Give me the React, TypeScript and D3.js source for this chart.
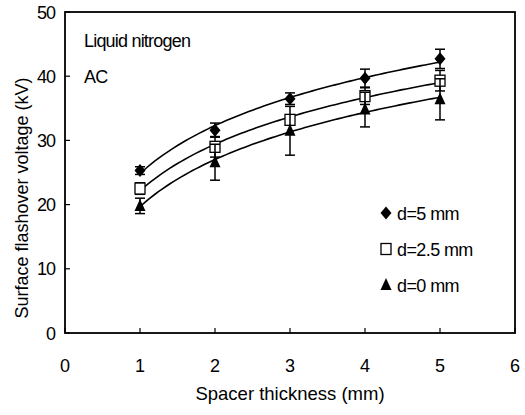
import React from "react";
import * as d3 from "d3";

const thickness = [1, 2, 3, 4, 5];
const d5Values = [25.3, 31.6, 36.5, 39.7, 42.7];
const d5Errors = [0.6, 1.1, 0.9, 1.4, 1.5];
const d25Values = [22.5, 29.0, 33.2, 36.9, 39.3];
const d25Errors = [0.9, 1.6, 0.8, 1.3, 1.6];
const d0Values = [19.8, 26.6, 31.5, 34.8, 36.4];
const d0Errors = [1.2, 2.8, 3.8, 2.7, 3.2];
const xTicks = [0, 1, 2, 3, 4, 5, 6];
const yTicks = [0, 10, 20, 30, 40, 50];
const seriesNames = ["d=5 mm", "d=2.5 mm", "d=0 mm"];

const W = 525, H = 415;
const m = { left: 65, right: 515, top: 12, bottom: 333 };
const FONT = "'Liberation Sans', Arial, sans-serif";

const x = d3.scaleLinear().domain([0, 6]).range([m.left, m.right]);
const y = d3.scaleLinear().domain([0, 50]).range([m.bottom, m.top]);

function logFit(xs: number[], ys: number[]) {
  const lx = xs.map(Math.log);
  const mx = d3.mean(lx)!, my = d3.mean(ys)!;
  let num = 0, den = 0;
  lx.forEach((v, i) => { num += (v - mx) * (ys[i] - my); den += (v - mx) ** 2; });
  const b = num / den, a = my - b * mx;
  return (t: number) => a + b * Math.log(t);
}

function Marker({ type, cx, cy }: { type: string; cx: number; cy: number }) {
  if (type === "diamond") {
    const r = 6.5;
    return <path d={`M${cx},${cy - r}L${cx + 5.5},${cy}L${cx},${cy + r}L${cx - 5.5},${cy}Z`} fill="#000" />;
  }
  if (type === "square") {
    return <rect x={cx - 5} y={cy - 5.5} width={10} height={11} fill="#fff" stroke="#000" strokeWidth={1.3} />;
  }
  return <path d={`M${cx},${cy - 7}L${cx + 5.5},${cy + 5}L${cx - 5.5},${cy + 5}Z`} fill="#000" />;
}

export default function App() {
  const series = [
    { vals: d5Values, errs: d5Errors, type: "diamond" },
    { vals: d25Values, errs: d25Errors, type: "square" },
    { vals: d0Values, errs: d0Errors, type: "triangle" },
  ];
  const fineX = d3.range(1, 5.0001, 0.05);

  return (
    <svg width={W} height={H} style={{ position: "absolute", left: 0, top: 0, background: "#fff" }} fontFamily={FONT}>
      <rect x={0} y={0} width={W} height={H} fill="#fff" />
      <rect x={m.left} y={m.top} width={m.right - m.left} height={m.bottom - m.top} fill="none" stroke="#000" strokeWidth={1.8} />
      {yTicks.map((t) => (
        <g key={"y" + t}>
          <line x1={m.left} x2={m.left + 5} y1={y(t)} y2={y(t)} stroke="#000" strokeWidth={1.2} />
          <text x={55} y={y(t) + 6.5} textAnchor="end" fontSize={18} letterSpacing={-1}>{t}</text>
        </g>
      ))}
      {xTicks.map((t) => (
        <g key={"x" + t}>
          <line x1={x(t)} x2={x(t)} y1={m.bottom} y2={m.bottom - 5} stroke="#000" strokeWidth={1.2} />
          <text x={x(t)} y={372} textAnchor="middle" fontSize={18}>{t}</text>
        </g>
      ))}
      <text x={290} y={400} textAnchor="middle" fontSize={18.5}>Spacer thickness (mm)</text>
      <text transform="translate(28,198) rotate(-90)" textAnchor="middle" fontSize={18}>Surface flashover voltage (kV)</text>
      <text x={84} y={47} fontSize={18} letterSpacing={-0.8}>Liquid nitrogen</text>
      <text x={84} y={83} fontSize={18} letterSpacing={-0.8}>AC</text>
      {series.map((s, si) => {
        const f = logFit(thickness, s.vals);
        const d = d3.line<number>().x((t) => x(t)).y((t) => y(f(t)))(fineX) || "";
        return <path key={"l" + si} d={d} fill="none" stroke="#000" strokeWidth={1.6} />;
      })}
      {series.map((s, si) => (
        <g key={"s" + si}>
          {thickness.map((t, i) => {
            const cx = x(t);
            const lo = y(s.vals[i] - s.errs[i]);
            const hi = y(s.vals[i] + s.errs[i]);
            return (
              <g key={i}>
                <line x1={cx} x2={cx} y1={lo} y2={hi} stroke="#000" strokeWidth={1.5} />
                <line x1={cx - 5} x2={cx + 5} y1={lo} y2={lo} stroke="#000" strokeWidth={1.5} />
                <line x1={cx - 5} x2={cx + 5} y1={hi} y2={hi} stroke="#000" strokeWidth={1.5} />
              </g>
            );
          })}
          {thickness.map((t, i) => (
            <Marker key={"m" + i} type={s.type} cx={x(t)} cy={y(s.vals[i])} />
          ))}
        </g>
      ))}
      {series.map((s, si) => {
        const ly = 213 + si * 36;
        return (
          <g key={"lg" + si}>
            <Marker type={s.type} cx={386} cy={ly} />
            <text x={397} y={ly + 6.5} fontSize={18} letterSpacing={-0.6}>{seriesNames[si]}</text>
          </g>
        );
      })}
    </svg>
  );
}
